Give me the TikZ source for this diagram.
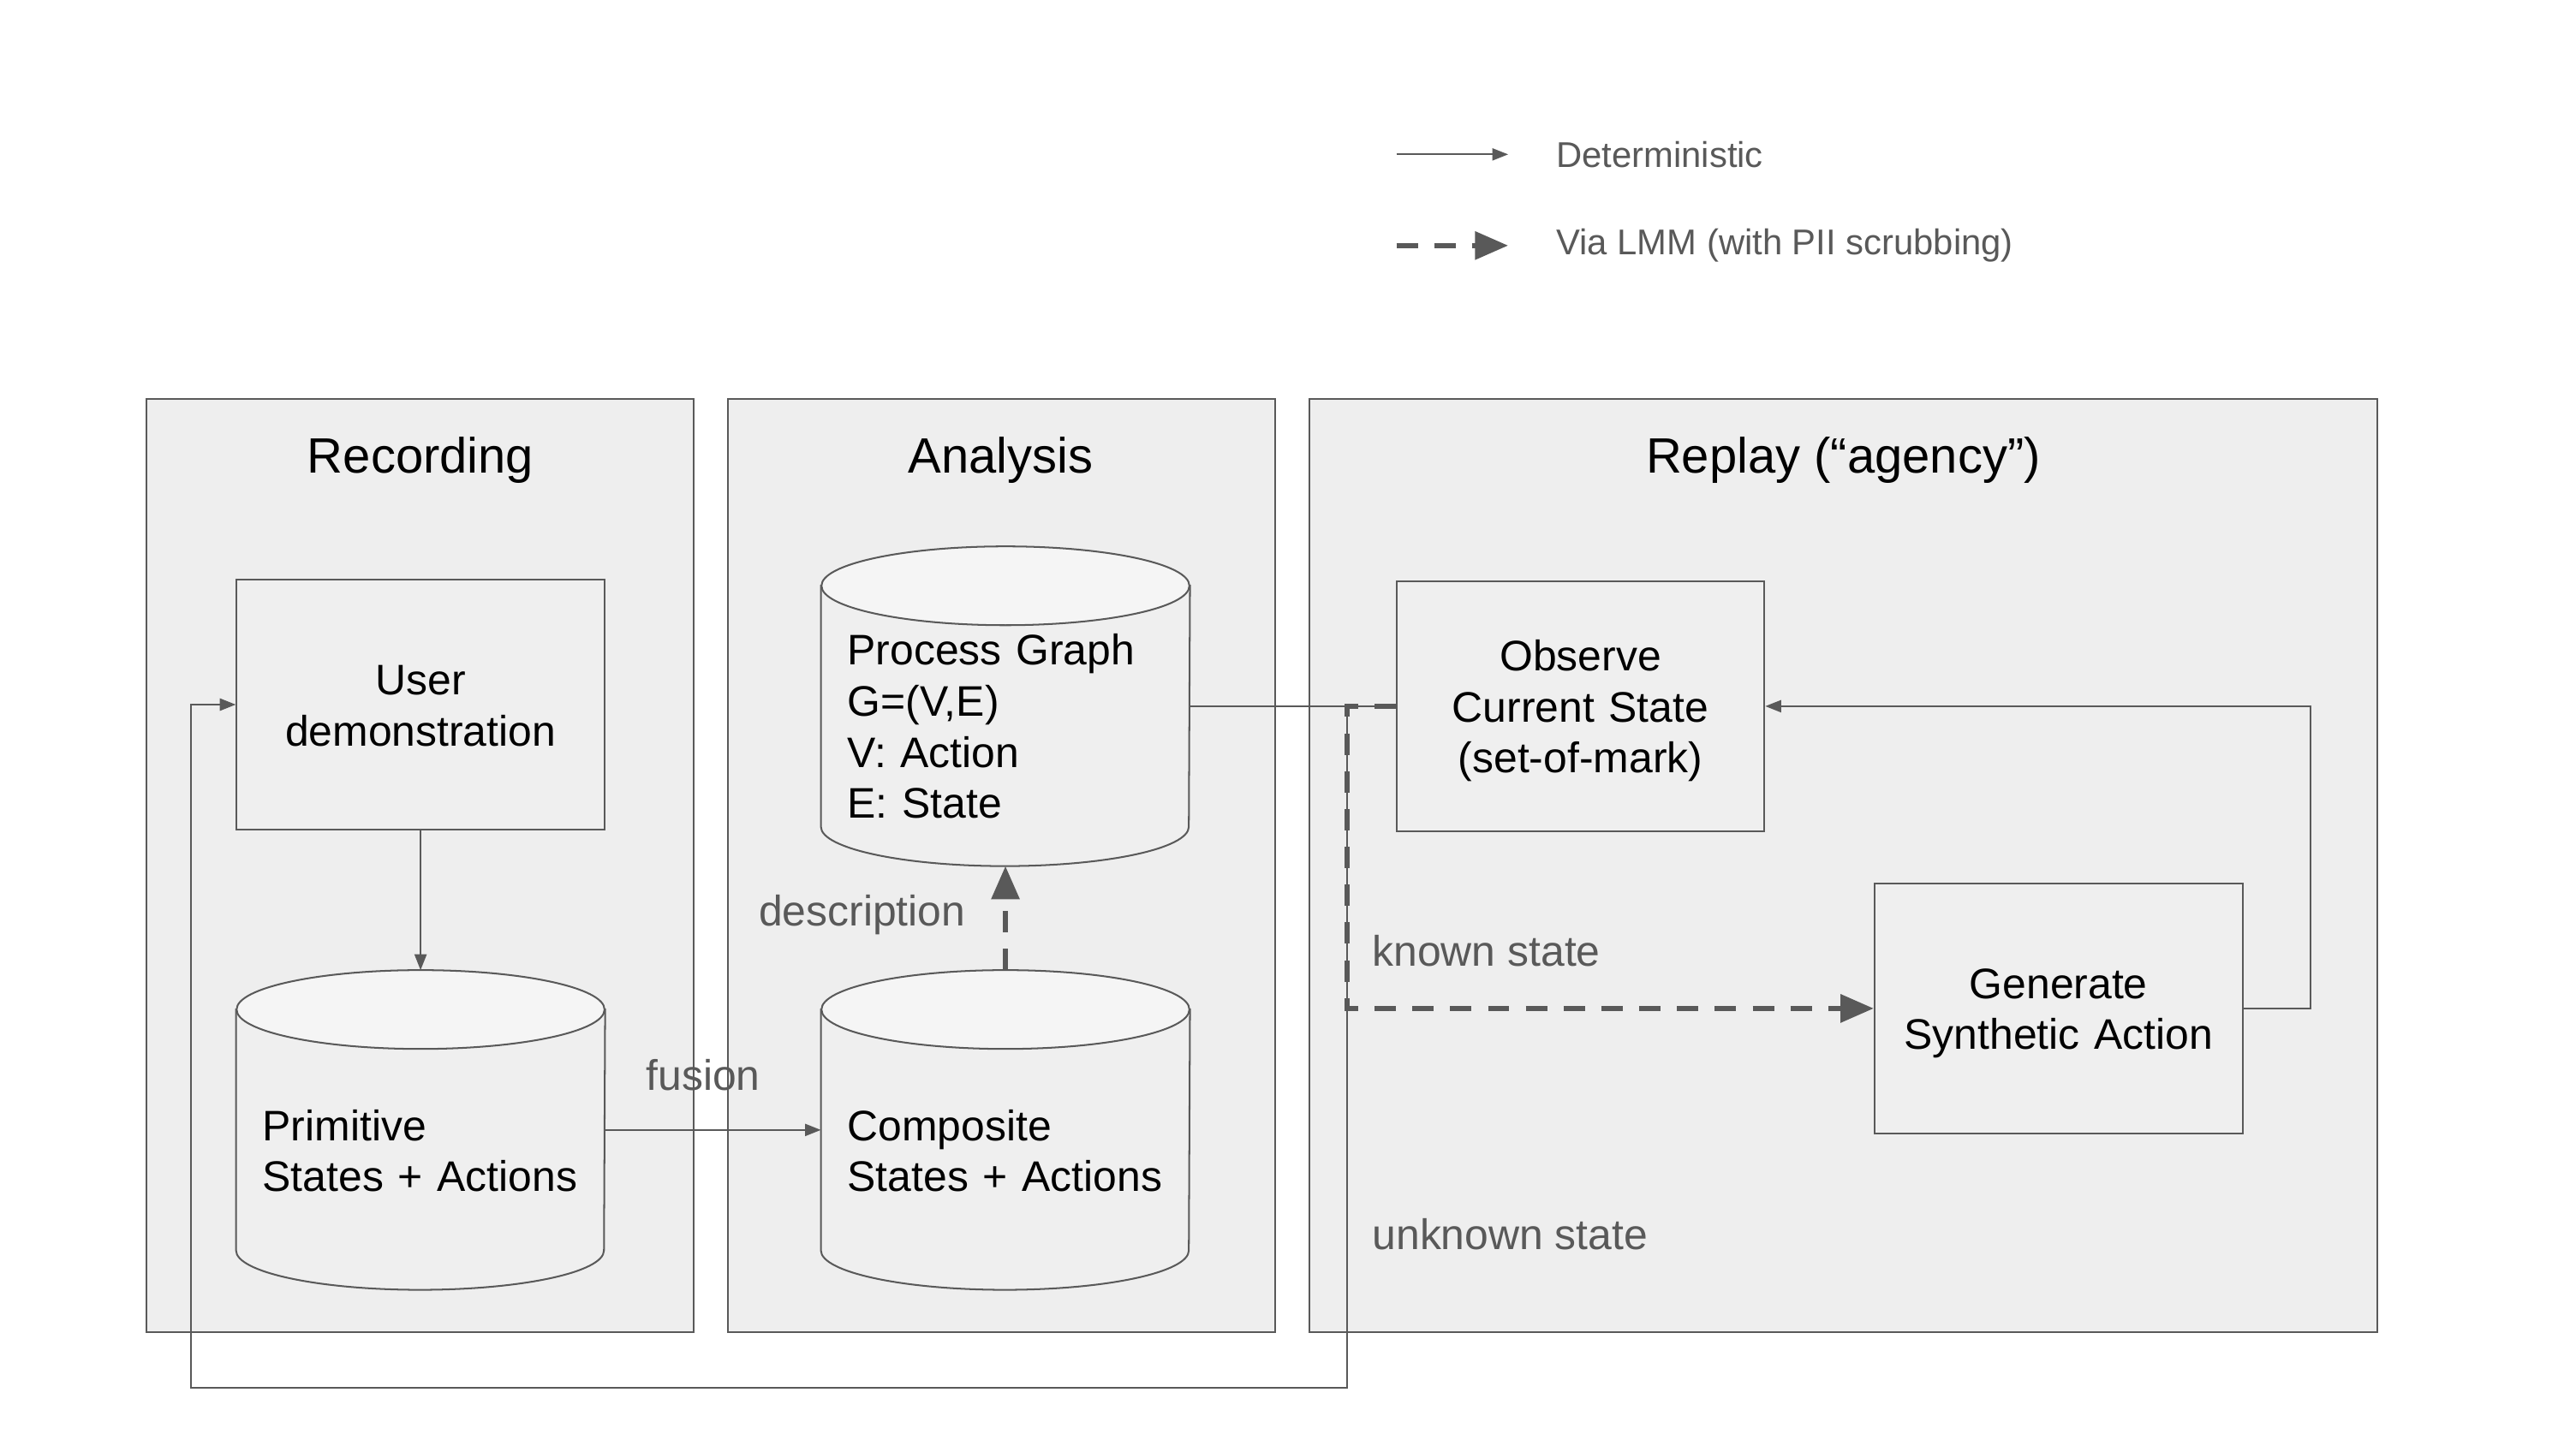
\documentclass[tikz,border=0pt]{standalone}
\usepackage{fontspec}
\setmainfont{Liberation Sans}
\usepackage{tikz}
\usetikzlibrary{arrows.meta, positioning}
\definecolor{linegray}{HTML}{595959}
\definecolor{panelfill}{HTML}{EEEEEE}
\definecolor{boxfill}{HTML}{EFEFEF}
\definecolor{capfill}{HTML}{F5F5F5}

\newcommand{\nodefont}{\fontsize{14.8}{17.7}\selectfont}
\newcommand{\titlefont}{\fontsize{17.2}{20.6}\selectfont}
\newcommand{\keyfont}{\fontsize{12.4}{14.8}\selectfont}

% cylinder outline round an (empty) store node
\newcommand{\drawstore}[1]{%
  \filldraw[draw=linegray, fill=boxfill, line width=0.6pt]
    ([yshift=-0.48cm]#1.north west) -- ([yshift=0.48cm]#1.south west)
    arc[start angle=180, end angle=360, x radius=2.24cm, y radius=0.48cm]
    -- ([yshift=-0.48cm]#1.north east) -- cycle;
  \filldraw[draw=linegray, fill=capfill, line width=0.6pt]
    ([yshift=-0.48cm]#1.north) ellipse [x radius=2.24cm, y radius=0.48cm];
}

\tikzset{
  panel/.style={draw=linegray, fill=panelfill, line width=0.6pt},
  paneltitle/.style={anchor=base, inner sep=0pt, font=\titlefont},
  procbox/.style={draw=linegray, fill=boxfill, line width=0.6pt, minimum width=4.48cm,
    minimum height=3.04cm, inner sep=0pt, text width=4.2cm, align=center, font=\nodefont,
    text height=10.8pt, text depth=17.7pt},
  store/.style={minimum width=4.48cm, minimum height=3.88cm, inner sep=0pt},
  storetext/.style={anchor=base west, inner sep=0pt, text width=4.1cm, align=left, font=\nodefont},
  edgelbl/.style={inner sep=0pt, text=linegray, font=\nodefont},
  keytext/.style={anchor=base west, inner sep=0pt, text=linegray, font=\keyfont},
  det/.style={draw=linegray, line width=0.6pt, -{Triangle[length=5.5pt, width=4.2pt]}},
  lmm/.style={draw=linegray, line width=1.8pt, dash pattern=on 7.4pt off 5.7pt,
    -{Triangle[length=11.5pt, width=9.5pt]}},
}

\begin{document}
\begin{tikzpicture}[x=0.02cm, y=-0.02cm]
    \useasboundingbox (0,0) rectangle (1568,880);

    % Legend
    \coordinate (detA) at (850,94);
    \coordinate (detB) at (918,94);
    \draw[det] (detA) -- (detB);
    \node[keytext] (detkey) at (947,102) {Deterministic};
    \coordinate (lmmA) at (850,149.5);
    \coordinate (lmmB) at (918,149.5);
    \draw[lmm] (lmmA) -- (lmmB);
    \node[keytext] (lmmkey) at (947,155) {Via LMM (with PII scrubbing)};

    % Panels
    \draw[panel] (89,243) rectangle (422,811);
    \draw[panel] (443,243) rectangle (776,811);
    \draw[panel] (797,243) rectangle (1447,811);
    \node[paneltitle] (rectitle) at (256,288) {Recording};
    \node[paneltitle] (anatitle) at (609,288) {Analysis};
    \node[paneltitle] (reptitle) at (1122,288) {Replay (“agency”)};

    % Recording
    \node[procbox] (user) at (256,429) {User\\demonstration};
    \node[store] (prim) at (256,688) {};
    \drawstore{prim}
    \node[storetext] (primtext) at (159.5,694.5) {Primitive\\States + Actions};

    % Analysis
    \node[store] (pg) at (612,430) {};
    \drawstore{pg}
    \node[storetext] (pgtext) at (515.5,405) {Process Graph\\G=(V,E)\\V: Action\\E: State};
    \node[store] (comp) at (612,688) {};
    \drawstore{comp}
    \node[storetext] (comptext) at (515.5,694.5) {Composite\\States + Actions};

    % Replay
    \node[procbox, text depth=35.4pt] (obs) at (962,430) {Observe\\Current State\\(set-of-mark)};
    \node[procbox] (gen) at (1253,614) {Generate\\Synthetic Action};
    \coordinate (split) at (820,430);
    \coordinate (loopL) at (116,845);

    % Connectors
    \draw[det] (user.south) -- (prim.north);
    \draw[det] (prim.east) -- (comp.west);
    \node[edgelbl, anchor=base] (fusionlbl) at (428,664) {fusion};
    \draw[lmm] (comp.north) -- (pg.south);
    \node[edgelbl, anchor=base east] (desclbl) at (588,564) {description};
    \draw[det, -] (pg.east) -- (obs.west);
    \draw[det] (split) |- (loopL) |- (user.west);
    \draw[lmm] (obs.west) -- (split) |- (gen.west);
    \draw[det] (gen.east) -- ++(41,0) |- (obs.east);
    \node[edgelbl, anchor=base west] (knownlbl) at (835,588) {known state};
    \node[edgelbl, anchor=base west] (unknownlbl) at (835,761) {unknown state};
\end{tikzpicture}
\end{document}
